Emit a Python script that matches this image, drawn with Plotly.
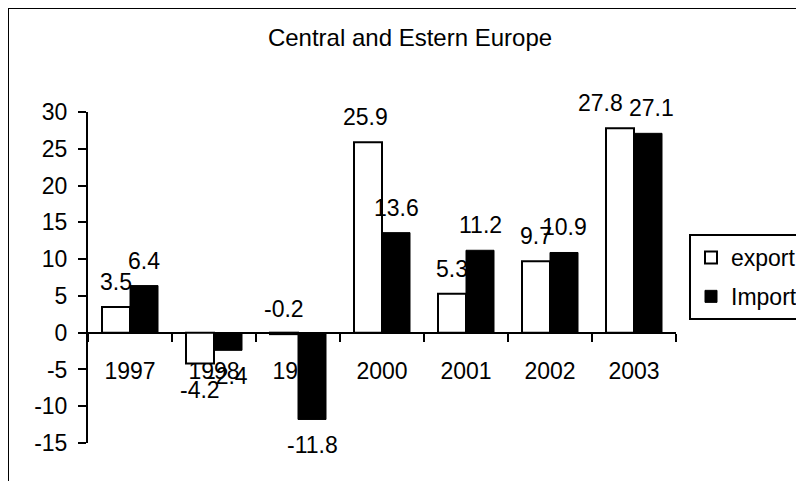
import plotly.graph_objects as go

# ---- data ----
years = ["1997", "1998", "1999", "2000", "2001", "2002", "2003"]
export_vals = [3.5, -4.2, -0.2, 25.9, 5.3, 9.7, 27.8]
import_vals = [6.4, -2.4, -11.8, 13.6, 11.2, 10.9, 27.1]
y_ticks = [-15, -10, -5, 0, 5, 10, 15, 20, 25, 30]
y_tick_labels = [str(v) for v in y_ticks]
title_text = "Central and Estern Europe"

# ---- layout constants (figure pixels; page has an 8px body margin) ----
W, H = 804, 481
OFF = 8
ML = 88 - OFF
MT = 112 - OFF
PW = 676 - 88
PH = 443 - 112
MR = W - ML - PW
MB = H - MT - PH
YMIN, YMAX = -15, 30
FONT = "Arial, Liberation Sans, sans-serif"
FS = 23
BARGAP = 1 / 3
# small horizontal nudges (px) of value labels, as in the reference
label_nudge = {("export", 6): -20, ("Import", 6): 3, ("export", 3): -3}

fig = go.Figure()
fig.add_trace(go.Bar(
    name="export", x=years, y=export_vals,
    marker=dict(color="white", line=dict(color="black", width=2)),
    legendgroup="a",
))
fig.add_trace(go.Bar(
    name="Import", x=years, y=import_vals,
    marker=dict(color="black", line=dict(color="black", width=1)),
    legendgroup="b",
))

# value labels (Excel style: beyond the bar end)
half = (1 - BARGAP) / 4
annotations = []
for name, series, off in (("export", export_vals, -half), ("Import", import_vals, half)):
    for i, v in enumerate(series):
        below = v < -1
        annotations.append(dict(
            x=i + off, y=v, xref="x", yref="y",
            text=f"{v:g}", showarrow=False,
            font=dict(family=FONT, size=FS, color="black"),
            yanchor="middle", xanchor="center",
            yshift=-26 if below else 25,
            xshift=label_nudge.get((name, i), 0),
        ))

def px_to_paper_x(px):
    return (px - OFF - ML) / PW

def px_to_paper_y(py):
    return (MT + PH - (py - OFF)) / PH

# chart-area frame at the figure edge
shapes = [dict(
    type="rect", xref="paper", yref="paper",
    x0=(0 - ML) / PW, x1=(W - 1 - ML) / PW,
    y0=(MT + PH - (H - 1)) / PH, y1=(MT + PH - 0) / PH,
    line=dict(color="black", width=2), fillcolor="rgba(0,0,0,0)",
    layer="below",
)]

fig.update_layout(
    width=W, height=H,
    margin=dict(l=ML, r=MR, t=MT, b=MB, autoexpand=False),
    paper_bgcolor="white", plot_bgcolor="white",
    font=dict(family=FONT, size=FS, color="black"),
    title=dict(text=title_text, x=0.5, xref="container", xanchor="center",
               y=1 - 30 / H, yref="container", yanchor="middle",
               font=dict(family=FONT, size=24, color="black")),
    barmode="group", bargap=BARGAP, bargroupgap=0,
    showlegend=True,
    legend=dict(
        x=px_to_paper_x(689), y=px_to_paper_y(234),
        xanchor="left", yanchor="top",
        bordercolor="black", borderwidth=2, bgcolor="white",
        font=dict(family=FONT, size=FS, color="black"),
        traceorder="grouped", tracegroupgap=6,
    ),
    annotations=annotations,
    shapes=shapes,
)

fig.update_yaxes(
    range=[YMIN, YMAX], tickvals=y_ticks, ticktext=y_tick_labels,
    showgrid=False, zeroline=False,
    showline=True, linecolor="black", linewidth=2,
    ticks="outside", ticklen=8, tickwidth=2, tickcolor="black",
    ticklabelstandoff=6,
    tickfont=dict(family=FONT, size=FS, color="black"),
)
fig.update_xaxes(
    type="category",
    anchor="free", position=(0 - YMIN) / (YMAX - YMIN),
    showgrid=False, zeroline=False,
    showline=True, linecolor="black", linewidth=2,
    ticks="outside", ticklen=8, tickwidth=2, tickcolor="black",
    tickson="boundaries",
    ticklabelstandoff=18,
    layer="below traces",
    tickfont=dict(family=FONT, size=FS, color="black"),
)

fig.write_html("out.html")
